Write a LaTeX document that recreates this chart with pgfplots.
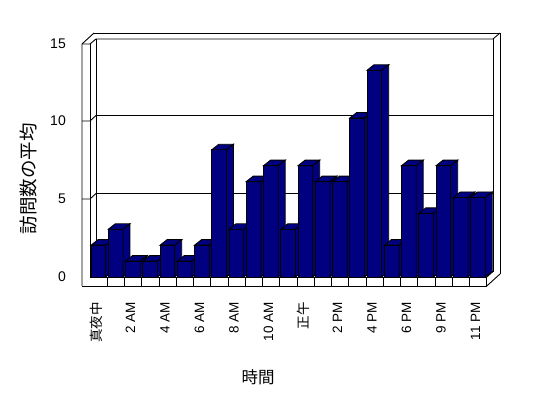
\documentclass[border=0pt]{standalone}
\usepackage{fontspec}
\setmainfont{Liberation Sans}
\newfontfamily\jp{Noto Sans CJK JP}
\usepackage{pgfplots}
\pgfplotsset{compat=1.18}
\usepackage{pgfplotstable}
\definecolor{barblue}{RGB}{0,0,128}

\pgfplotstableread{
x v
0 2
1 3
2 1
3 1
4 2
5 1
6 2
7 8
8 3
9 6
10 7
11 3
12 7
13 6
14 6
15 10
16 13
17 2
18 7
19 4
20 7
21 5
22 5
}\visits

\pgfdeclareplotmark{emptymark}{}
\newcommand\barv{0}
\newcommand\drawbar{%
  \begin{pgfscope}%
  \pgfmathsetmacro\hh{\barv*15.9}%
  \pgfsetlinewidth{0.9pt}%
  \pgfsetmiterjoin
  \pgfsetstrokecolor{black}%
  \pgfsetfillcolor{barblue}%
  \pgfpathrectanglecorners{\pgfpoint{-7.6pt}{-\hh pt}}{\pgfpoint{7.1pt}{0pt}}%
  \pgfusepath{fill,stroke}%
  \pgfpathmoveto{\pgfpoint{-7.6pt}{0pt}}%
  \pgfpathlineto{\pgfpoint{-0.6pt}{5.5pt}}%
  \pgfpathlineto{\pgfpoint{14.1pt}{5.5pt}}%
  \pgfpathlineto{\pgfpoint{7.1pt}{0pt}}%
  \pgfpathclose
  \pgfusepath{fill,stroke}%
  \pgfpathmoveto{\pgfpoint{7.1pt}{0pt}}%
  \pgfpathlineto{\pgfpoint{14.1pt}{5.5pt}}%
  \pgfpathlineto{\pgfpoint{14.1pt}{5.5pt-\hh pt}}%
  \pgfpathlineto{\pgfpoint{7.1pt}{-\hh pt}}%
  \pgfpathclose
  \pgfusepath{fill,stroke}%
  \end{pgfscope}%
}

\begin{document}
\begin{tikzpicture}
\path[use as bounding box] (0,0) rectangle (548pt,398pt);
\fill[white] (0,0) rectangle (548pt,398pt);
\begin{scope}[yshift=398pt, x=1pt, y=-1pt, line width=0.9pt, line join=miter]
  \fill[white] (82,286) -- (82,44) -- (94,33) -- (500,33) -- (500,274) -- (486.75,286) -- cycle;
  \draw (94,33) -- (500,33) -- (500,274);
  \draw (82,286) -- (82,44) -- (94,33);
  \draw (82,44) -- (90,44) -- (96,39) -- (493,39) -- (500,33);
  \draw (90,44) -- (90,277);
  \draw (96,39) -- (96,271.5) -- (493,271.5) -- (493,39);
  \draw (82,286) -- (486.75,286) -- (486.75,277) -- (90,277);
  \draw (486.75,286) -- (500,274);
  \draw (486.75,277) -- (493,271.5);
  \foreach \yf in {199,121} {
    \draw (82,\yf) -- (90,\yf) -- (96,\yf-5.5) -- (493,\yf-5.5);
  }
  \foreach \k in {1,...,22} {
    \draw ({90+17.25*\k},277) -- ({90+17.25*\k},286);
  }
\end{scope}
\begin{axis}[
  at={(90pt,121pt)}, anchor=south west,
  x=17.25pt, y=15.9pt,
  xmin=-0.5, xmax=22.5, ymin=0, ymax=15,
  clip=false,
  axis line style={draw=none},
  tick style={draw=none},
  /pgf/number format/assume math mode=true,
  ytick={0,4.906,9.811,14.686},
  yticklabels={0,5,10,15},
  yticklabel shift=24pt,
  yticklabel style={anchor=east, inner sep=0pt, font=\fontsize{14}{16}\selectfont},
  xtick={0,2,...,22},
  xticklabels={{\jp 真夜中},2 AM,4 AM,6 AM,8 AM,10 AM,{\jp 正午},2 PM,4 PM,6 PM,9 PM,11 PM},
  xticklabel shift=25pt,
  xticklabel style={xshift=-2.6pt, rotate=90, anchor=east, inner sep=0pt, font=\fontsize{13.5}{15}\selectfont},
]
\addplot[scatter, only marks, mark=emptymark,
  visualization depends on={rawy\as\barv},
  scatter/@pre marker code/.code={\drawbar},
  scatter/@post marker code/.code={}]
  table[x=x, y=v] {\visits};
\end{axis}
\node[rotate=90, font=\jp\fontsize{18.5}{20}\selectfont] at (28pt,219pt) {訪問数の平均};
\node[font=\jp\fontsize{16.5}{18}\selectfont] at (258pt,20.5pt) {時間};
\end{tikzpicture}
\end{document}
